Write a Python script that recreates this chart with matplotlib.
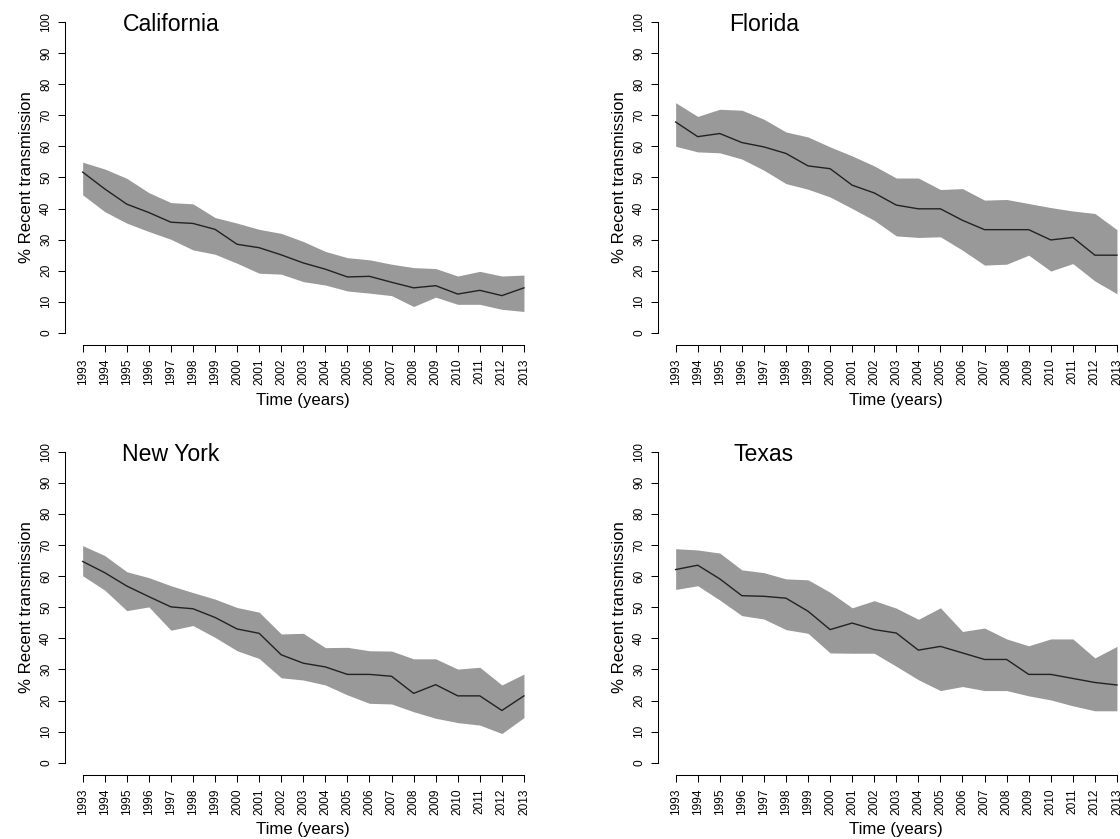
import matplotlib
matplotlib.use("Agg")
import matplotlib.pyplot as plt
import numpy as np

plt.rcParams['font.family'] = ['Liberation Sans', 'DejaVu Sans']

years = list(range(1993, 2014))
year_labels = [str(y) for y in years]

states = ["California", "Florida", "New York", "Texas"]

ca_mid = [51.7, 46.3, 41.4, 38.7, 35.6, 35.2, 33.3, 28.5, 27.4, 25.1, 22.5,
          20.5, 18.0, 18.2, 16.3, 14.5, 15.2, 12.5, 13.7, 12.0, 14.5]
ca_hi = [54.9, 52.7, 49.7, 45.1, 41.9, 41.5, 37.1, 35.3, 33.3, 32.0, 29.4,
         26.2, 24.2, 23.5, 22.1, 21.0, 20.7, 18.3, 19.8, 18.3, 18.6]
ca_lo = [44.4, 39.0, 35.3, 32.6, 30.1, 26.7, 25.3, 22.4, 19.2, 18.9, 16.5,
         15.4, 13.5, 12.8, 12.0, 8.5, 11.5, 9.2, 9.2, 7.6, 6.9]

fl_mid = [67.8, 63.1, 64.1, 61.2, 59.8, 57.7, 53.7, 52.8, 47.5, 45.0, 41.1,
          39.9, 39.9, 36.2, 33.2, 33.2, 33.2, 29.9, 30.7, 25.0, 25.0]
fl_hi = [74.0, 69.6, 71.9, 71.6, 68.7, 64.6, 63.0, 59.8, 56.9, 53.7, 49.8,
         49.8, 46.1, 46.4, 42.7, 42.9, 41.6, 40.3, 39.2, 38.4, 33.2]
fl_lo = [60.0, 58.2, 57.9, 55.9, 52.3, 48.0, 46.2, 43.7, 40.0, 36.2, 31.2,
         30.7, 30.9, 26.6, 21.8, 22.1, 25.0, 19.9, 22.3, 16.7, 12.6]

ny_mid = [64.7, 61.1, 56.8, 53.4, 50.1, 49.5, 46.7, 43.0, 41.6, 34.7, 32.0,
          30.8, 28.4, 28.4, 27.8, 22.3, 25.1, 21.5, 21.5, 16.8, 21.5]
ny_hi = [69.8, 66.6, 61.4, 59.5, 56.9, 54.7, 52.6, 49.9, 48.4, 41.4, 41.6,
         37.0, 37.1, 36.0, 35.9, 33.4, 33.4, 30.1, 30.7, 25.0, 28.5]
ny_lo = [60.1, 55.5, 48.9, 50.1, 42.6, 44.1, 40.3, 36.0, 33.5, 27.3, 26.6,
         25.0, 21.8, 19.1, 18.9, 16.4, 14.3, 12.9, 12.1, 9.4, 14.5]

tx_mid = [62.1, 63.5, 59.1, 53.7, 53.5, 52.9, 48.7, 42.8, 44.9, 42.8, 41.7,
          36.2, 37.4, 35.3, 33.2, 33.2, 28.4, 28.4, 27.1, 25.8, 25.0]
tx_hi = [68.8, 68.4, 67.4, 62.0, 61.1, 59.1, 58.8, 54.8, 49.8, 52.1, 49.7,
         46.1, 49.8, 42.2, 43.3, 39.8, 37.6, 39.8, 39.8, 33.7, 37.4]
tx_lo = [55.7, 56.9, 52.3, 47.3, 46.2, 42.8, 41.6, 35.3, 35.2, 35.2, 31.0,
         26.7, 23.2, 24.5, 23.2, 23.2, 21.5, 20.2, 18.3, 16.7, 16.7]

mids = [ca_mid, fl_mid, ny_mid, tx_mid]
his = [ca_hi, fl_hi, ny_hi, tx_hi]
los = [ca_lo, fl_lo, ny_lo, tx_lo]

y_ticks = list(range(0, 101, 10))

W, H = 1120, 839
fig = plt.figure(figsize=(W / 100, H / 100), dpi=100)

ax_w = 476.6 / W
ax_h = 336.0 / H
lefts = [65.0 / W, 658.0 / W]
bottoms = [(H - 345.4) / H, (H - 775.2) / H]
positions = [(lefts[0], bottoms[0]), (lefts[1], bottoms[0]),
             (lefts[0], bottoms[1]), (lefts[1], bottoms[1])]

for i, st in enumerate(states):
    l, b = positions[i]
    ax = fig.add_axes([l, b, ax_w, ax_h])
    ax.fill_between(years, los[i], his[i], color='#999999', linewidth=0)
    ax.plot(years, mids[i], color='#222222', linewidth=1.0)
    ax.set_xlim(1992.2, 2013.8)
    ax.set_ylim(-4, 104)
    for s in ['top', 'right']:
        ax.spines[s].set_visible(False)
    ax.spines['left'].set_bounds(0, 100)
    ax.spines['bottom'].set_bounds(1993, 2013)
    for s in ['left', 'bottom']:
        ax.spines[s].set_linewidth(0.75)
    ax.set_xticks(years)
    ax.set_xticklabels(year_labels, rotation=90, fontsize=8.6)
    ax.set_yticks(y_ticks)
    ax.set_yticklabels([str(v) for v in y_ticks], rotation=90, fontsize=8.6, va='center')
    ax.tick_params(axis='both', direction='out', length=5.0, width=0.75, pad=4.3)
    ax.text(1997, 97.1, st, ha='center', va='baseline', fontsize=16.6)
    ax.text(-0.0808, 0.5, "% Recent transmission", rotation=90, ha='center', va='center',
            fontsize=12.1, transform=ax.transAxes)
    ax.text(0.5, -0.1625, "Time (years)", ha='center', va='center', fontsize=12.1,
            transform=ax.transAxes)

fig.savefig("out.png", dpi=100)
